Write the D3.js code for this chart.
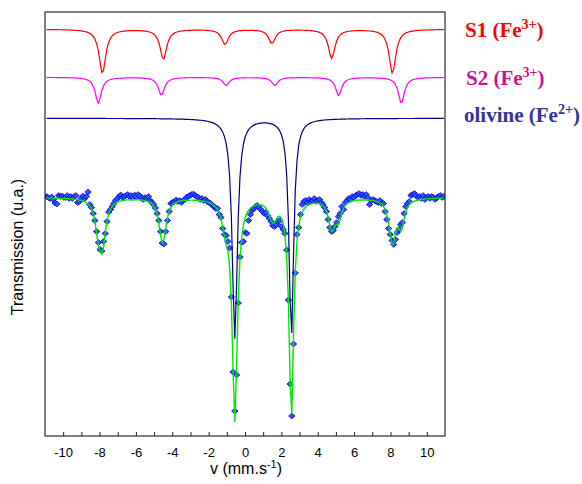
<!DOCTYPE html>
<html><head><meta charset="utf-8">
<script src="https://cdn.jsdelivr.net/npm/d3@7"></script>
<style>body{margin:0;background:#fff}</style>
</head><body><svg id="chart" width="582" height="484"></svg>
<script>
// ---------- data ----------
// Velocity channels (mm/s): start + step * index
const velocityStart = -10.915;
const velocityStep = 0.095;
// Measured relative transmission (per-mille, 1000 = baseline)
const transmission = [
1001,1000,999,1000.5,998,994.5,993.5,1002,1001,1001.5,
1000,1000,1002,999,1001,999,1001,1002,995,996,
999,1001.5,999,1001,1005.5,993,990,984,977,966,
955,948,946.5,956,964,976,985.5,988,991,994,
997,999,1001,1002.5,1000,1001,1002,1003,1001,1002,
1000,1002.5,1001,1003,1001.5,999.5,998,1000,999,1001,
997,995,993,989.5,984,977,966,954.5,953.5,966,
977,986,994,995,996,997.5,996,997,995,997,
998,1000,1001,1002,1003,1003.5,1002,1001,1000,998,
999,997,998,996,995,994,992,991,989,989,
983,980,969,963,962,956,949.5,900.5,825.5,786.5,
822.5,894.5,940.5,955,956,965,964,977,983,987,
989,991,992,990,988,986,984,985,982,979,
976,972,971,973,976,977,971,968,964,947.5,
897.5,813.5,781.5,853.5,924.5,963,970,983,993,996,
997,995,998,996,997,999,996,997,998,995,
993,990,986,978,970,966,967,971,975,981,
984,991,988,995,997,999,998,1001,1000,1002,
1003,1004,1002,1003,1001,1003,1000,993,997,998,
997,996,995,997,994,994,986,978,969,963,
957,953,958,965,968,973,975,984,991,994,
996,1002,1003,1004,1002,1000,1001,999,1002,998,
1000,1001,999,1001,1000,998,1000,1001,1002,1000,
1001
];
// Fitted sub-spectra (Lorentzian lines): positions (mm/s), depths (per-mille), half widths
const s1Positions = [-7.84, -4.49, -1.10, 1.48, 4.77, 8.11];
const s1Depths    = [44, 30, 15, 14, 29, 44];
const s1HalfWidths = [0.22, 0.22, 0.22, 0.22, 0.22, 0.22];
const s2Positions = [-8.07, -4.60, -1.04, 1.64, 5.15, 8.60];
const s2Depths    = [26, 18, 8, 8, 18, 26];
const s2HalfWidths = [0.20, 0.20, 0.20, 0.20, 0.20, 0.20];
const olivinePositions = [-0.56, 2.55];
const olivineDepths    = [220, 220];
const olivineHalfWidths = [0.17, 0.15];
// Display baselines of the offset sub-spectra (per-mille)
const componentNames = ["S1", "S2", "olivine"];
const componentBaselines = [1168.2, 1120.2, 1079.2];
const componentColors = ["#ff0000", "#ff00ff", "#000080"];
const legendColors = ["#ff0000", "#cc1199", "#333399"];
const legendSups = ["3+", "3+", "2+"];
// Axis ticks
const xTicks = [-10,-9,-8,-7,-6,-5,-4,-3,-2,-1,0,1,2,3,4,5,6,7,8,9,10];
const xTickLabels = [-10,-8,-6,-4,-2,0,2,4,6,8,10];

// ---------- chart ----------
(function () {
const svg = d3.select("#chart");
const mLeft = 45, mRight = 445, mTop = 12, mBottom = 436;
const x = d3.scaleLinear().domain([-11, 11]).range([mLeft, mRight]);
const y = d3.scaleLinear().domain([761.5, 1185.5]).range([mBottom, mTop]);

const velocities = transmission.map((_, i) => velocityStart + i * velocityStep);

function lineSum(v, pos, dep, hw) {
  let s = 0;
  for (let k = 0; k < pos.length; k++) {
    const g2 = hw[k] * hw[k];
    s += dep[k] * g2 / ((v - pos[k]) ** 2 + g2);
  }
  return s;
}
const comps = [
  [s1Positions, s1Depths, s1HalfWidths],
  [s2Positions, s2Depths, s2HalfWidths],
  [olivinePositions, olivineDepths, olivineHalfWidths]
];

svg.append("defs").append("clipPath").attr("id", "plot")
  .append("rect").attr("x", mLeft).attr("y", mTop).attr("width", mRight - mLeft).attr("height", mBottom - mTop);

const plot = svg.append("g").attr("clip-path", "url(#plot)");

// data markers
plot.append("g").selectAll("path").data(transmission).join("path")
  .attr("transform", (d, i) => `translate(${x(velocities[i])},${y(d)})`)
  .attr("d", "M0,-2.8L3.2,0L0,2.8L-3.2,0Z")
  .attr("fill", "#3355ff")
  .attr("stroke", "#0000e0")
  .attr("stroke-width", 0.8);

// total fit
const fitLine = d3.line().x(d => x(d.v)).y(d => y(d.t));
const fitData = velocities.map(v => ({v, t: 1000 - comps.reduce((a, c) => a + lineSum(v, c[0], c[1], c[2]), 0)}));
plot.append("path").datum(fitData).attr("d", fitLine)
  .attr("fill", "none").attr("stroke", "#00e600").attr("stroke-width", 1.4);

// sub-spectra
comps.forEach((c, k) => {
  const dat = velocities.map(v => ({v, t: componentBaselines[k] - lineSum(v, c[0], c[1], c[2])}));
  plot.append("path").datum(dat).attr("d", fitLine)
    .attr("fill", "none").attr("stroke", componentColors[k]).attr("stroke-width", 1.2);
});

// frame
svg.append("rect").attr("x", mLeft).attr("y", mTop).attr("width", mRight - mLeft).attr("height", mBottom - mTop)
  .attr("fill", "none").attr("stroke", "#000").attr("stroke-width", 1);

// x axis
const axis = d3.axisBottom(x).tickValues(xTicks).tickSize(-4).tickPadding(11.5)
  .tickFormat(d => xTickLabels.includes(d) ? String(d) : "");
const ax = svg.append("g").attr("transform", `translate(0,${mBottom})`).call(axis);
ax.select(".domain").remove();
ax.selectAll("line").attr("stroke", "#222");
ax.selectAll("text").attr("font-family", "Liberation Sans, Arial, sans-serif").attr("font-size", 13).attr("fill", "#000");

// axis titles
const xt = svg.append("text").attr("x", 246).attr("y", 474).attr("text-anchor", "middle")
  .attr("font-family", "Liberation Sans, Arial, sans-serif").attr("font-size", 16).attr("fill", "#000");
xt.append("tspan").text("v (mm.s");
xt.append("tspan").attr("font-size", 11).attr("dy", -6).text("-1");
xt.append("tspan").attr("dy", 6).text(")");

svg.append("text").attr("transform", "translate(23,247) rotate(-90)").attr("text-anchor", "middle")
  .attr("font-family", "Liberation Sans, Arial, sans-serif").attr("font-size", 16).attr("fill", "#000")
  .text("Transmission (u.a.)");

// legend labels
const legendY = [37, 85, 122];
const legendX = [465, 466, 464];
componentNames.forEach((n, k) => {
  const t = svg.append("text").attr("x", legendX[k]).attr("y", legendY[k])
    .attr("font-family", "Liberation Serif, Times New Roman, serif").attr("font-weight", "bold")
    .attr("font-size", 21).attr("fill", legendColors[k]);
  t.append("tspan").text(n + " (Fe");
  t.append("tspan").attr("font-size", 14).attr("dy", -8).text(legendSups[k]);
  t.append("tspan").attr("dy", 8).text(")");
});
})();
</script></body></html>
